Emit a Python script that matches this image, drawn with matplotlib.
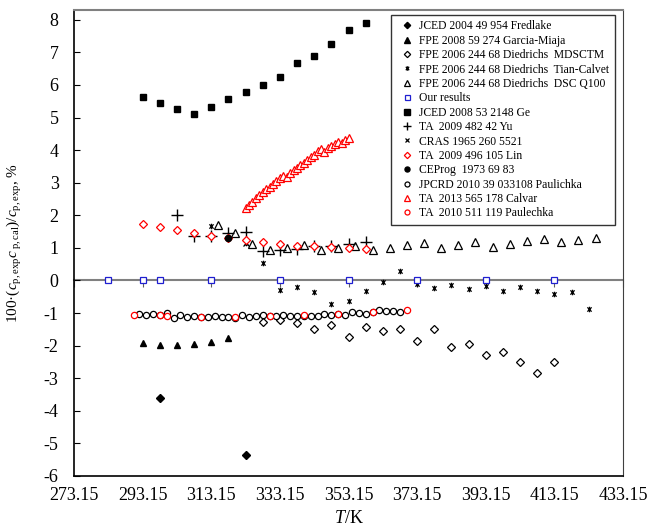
import matplotlib
matplotlib.use('Agg')
import matplotlib.pyplot as plt
import numpy as np
from matplotlib.path import Path

plt.rcParams['font.family'] = ['Liberation Serif', 'DejaVu Serif']
plt.rcParams['mathtext.fontset'] = 'custom'
plt.rcParams['mathtext.rm'] = 'Liberation Serif'
plt.rcParams['mathtext.it'] = 'Liberation Serif:italic'
plt.rcParams['axes.unicode_minus'] = False

# desviaciones 100*(cp,exp - cp,cal)/cp,exp frente a T
T_fredlake = [298.15, 323.15]
d_fredlake = [-3.62, -5.36]

T_garcia = [293.15, 298.15, 303.15, 308.15, 313.15, 318.15]
d_garcia = [-1.92, -1.97, -1.97, -1.94, -1.90, -1.76]

T_mdsctm = [328.15, 333.15, 338.15, 343.15, 348.15, 353.15, 358.15, 363.15, 368.15,
            373.15, 378.15, 383.15, 388.15, 393.15, 398.15, 403.15, 408.15, 413.15]
d_mdsctm = [-1.26, -1.20, -1.32, -1.48, -1.37, -1.72, -1.42, -1.54, -1.48,
            -1.85, -1.48, -2.05, -1.95, -2.30, -2.18, -2.50, -2.85, -2.50]

T_tian = [313.15, 323.15, 328.15, 333.15, 338.15, 343.15, 348.15, 353.15, 358.15, 363.15, 368.15,
          373.15, 378.15, 383.15, 388.15, 393.15, 398.15, 403.15, 408.15, 413.15, 418.15, 423.15]
d_tian = [1.66, 1.15, 0.54, -0.28, -0.21, -0.36, -0.72, -0.64, -0.33, -0.05, 0.28,
          -0.12, -0.22, -0.15, -0.26, -0.18, -0.31, -0.21, -0.33, -0.43, -0.36, -0.87]

T_q100 = [315.15, 320.15, 325.15, 330.15, 335.15, 340.15, 345.15, 350.15, 355.15, 360.15, 365.15, 370.15,
          375.15, 380.15, 385.15, 390.15, 395.15, 400.15, 405.15, 410.15, 415.15, 420.15, 425.15]
d_q100 = [1.71, 1.47, 1.13, 0.95, 1.00, 1.08, 0.92, 1.00, 1.06, 0.92, 1.00, 1.10,
          1.16, 1.00, 1.08, 1.18, 1.02, 1.11, 1.20, 1.27, 1.18, 1.25, 1.31]

T_ours = [283.15, 293.15, 298.15, 313.15, 333.15, 353.15, 373.15, 393.15, 413.15]
d_ours = [0, 0, 0, 0, 0, 0, 0, 0, 0]

T_ge = [293.15, 298.15, 303.15, 308.15, 313.15, 318.15, 323.15, 328.15, 333.15, 338.15,
        343.15, 348.15, 353.15, 358.15]
d_ge = [5.62, 5.44, 5.25, 5.10, 5.33, 5.56, 5.79, 6.00, 6.24, 6.66, 6.88, 7.27, 7.69, 7.90]

T_yu = [303.15, 308.15, 313.15, 318.15, 323.15, 328.15, 333.15, 338.15, 343.15, 348.15, 353.15, 358.15]
d_yu = [2.02, 1.38, 1.38, 1.47, 1.49, 0.89, 0.94, 0.98, 1.05, 1.05, 1.13, 1.17]

T_cras = [323.15]
d_cras = [1.15]

T_lin = [293.15, 298.15, 303.15, 308.15, 313.15, 318.15, 323.15, 328.15, 333.15, 338.15,
         343.15, 348.15, 353.15, 358.15]
d_lin = [1.74, 1.64, 1.54, 1.46, 1.38, 1.31, 1.23, 1.17, 1.13, 1.07, 1.05, 1.02, 0.99, 0.98]

T_ceprog = [318.15]
d_ceprog = [1.31]

T_jpcrd = [292.15, 294.15, 296.15, 298.15, 300.15, 302.15, 304.15, 306.15, 308.15, 310.15,
           312.15, 314.15, 316.15, 318.15, 320.15, 322.15, 324.15, 326.15, 328.15, 330.15,
           332.15, 334.15, 336.15, 338.15, 340.15, 342.15, 344.15, 346.15, 348.15, 350.15,
           352.15, 354.15, 356.15, 358.15, 360.15, 362.15, 364.15, 366.15, 368.15]
d_jpcrd = [-1.03, -1.05, -1.03, -1.06, -1.00, -1.15, -1.05, -1.11, -1.08, -1.11,
           -1.11, -1.08, -1.11, -1.11, -1.15, -1.06, -1.13, -1.08, -1.05, -1.08,
           -1.08, -1.05, -1.10, -1.08, -1.08, -1.09, -1.08, -1.04, -1.07, -1.03,
           -1.07, -0.97, -0.99, -1.03, -0.98, -0.92, -0.95, -0.95, -0.98]

T_calvar = [323.15, 324.15, 325.15, 326.15, 327.15, 328.15, 329.15, 330.15, 331.15, 332.15,
            333.15, 334.15, 335.15, 336.15, 337.15, 338.15, 339.15, 340.15, 341.15, 342.15,
            343.15, 344.15, 345.15, 346.15, 347.15, 348.15, 349.15, 350.15, 351.15, 352.15, 353.15]
d_calvar = [2.22, 2.32, 2.42, 2.52, 2.62, 2.72, 2.80, 2.88, 2.96, 3.05,
            3.14, 3.22, 3.18, 3.30, 3.38, 3.46, 3.54, 3.62, 3.70, 3.78,
            3.86, 3.96, 4.02, 3.95, 4.06, 4.12, 4.18, 4.25, 4.22, 4.30, 4.36]

T_paulechka = [290.65, 298.15, 300.15, 310.15, 320.15, 330.15, 340.15, 350.15, 360.15, 370.15]
d_paulechka = [-1.06, -1.06, -1.08, -1.11, -1.11, -1.10, -1.06, -1.03, -0.98, -0.90]

# marcador tipo asterisco (x con barra vertical)
star = Path([(-1, -1), (1, 1), (-1, 1), (1, -1), (0, -1.3), (0, 1.3)],
            [Path.MOVETO, Path.LINETO, Path.MOVETO, Path.LINETO, Path.MOVETO, Path.LINETO])

fig = plt.figure(figsize=(6.48, 5.26), dpi=100)
ax = fig.add_axes([74 / 648, 50 / 526, 549 / 648, 466 / 526])

ms = 4.5
ax.plot(T_fredlake, d_fredlake, 'D', color='black', ms=4, ls='none', label='JCED 2004 49 954 Fredlake')
ax.plot(T_garcia, d_garcia, '^', color='black', ms=5, ls='none', label='FPE 2008 59 274 Garcia-Miaja')
ax.plot(T_mdsctm, d_mdsctm, 'D', mfc='white', mec='black', ms=4, mew=0.9, ls='none',
        label='FPE 2006 244 68 Diedrichs  MDSCTM')
ax.plot(T_tian, d_tian, marker=star, color='black', ms=4, mew=0.9, ls='none',
        label='FPE 2006 244 68 Diedrichs  Tian-Calvet')
ax.plot(T_q100, d_q100, '^', mfc='white', mec='black', ms=5.5, mew=0.9, ls='none',
        label='FPE 2006 244 68 Diedrichs  DSC Q100')
ax.plot(T_ours, d_ours, 's', mfc='white', mec='#1f1fd0', ms=4.5, mew=0.9, ls='none', label='Our results')
ax.plot(T_ge, d_ge, 's', color='black', ms=5, ls='none', label='JCED 2008 53 2148 Ge')
ax.plot(T_yu, d_yu, '+', color='black', ms=8, mew=1, ls='none', label='TA  2009 482 42 Yu')
ax.plot(T_cras, d_cras, 'x', color='black', ms=4, mew=0.9, ls='none', label='CRAS 1965 260 5521')
ax.plot(T_lin, d_lin, 'D', mfc='white', mec='red', ms=4, mew=0.9, ls='none', label='TA  2009 496 105 Lin')
ax.plot(T_ceprog, d_ceprog, 'o', color='black', ms=4.5, ls='none', label='CEProg  1973 69 83')
ax.plot(T_jpcrd, d_jpcrd, 'o', mfc='white', mec='black', ms=ms, mew=0.9, ls='none',
        label='JPCRD 2010 39 033108 Paulichka')
ax.plot(T_calvar, d_calvar, '^', mfc='white', mec='red', ms=5.5, mew=0.9, ls='none',
        label='TA  2013 565 178 Calvar')
ax.plot(T_paulechka, d_paulechka, 'o', mfc='white', mec='red', ms=ms, mew=0.9, ls='none',
        label='TA  2010 511 119 Paulechka')

ax.set_xlim(273.15, 433.15)
ax.set_ylim(-6, 8.3)
xt = [273.15 + 20 * i for i in range(9)]
ax.set_xticks(xt)
ax.set_xticklabels(['%.2f' % t for t in xt])
ax.set_yticks(range(-6, 9))
ax.tick_params(axis='x', length=0, labelsize=13, pad=8)
ax.tick_params(axis='y', direction='in', length=4, labelsize=13, pad=11)

# eje en cero con sus marcas
ax0 = ax.secondary_xaxis(6 / 14.3)
ax0.set_xticks(xt)
ax0.tick_params(direction='out', length=5, color='#606060', labelbottom=False, labeltop=False)
ax0.spines['bottom'].set_color('#808080')
ax0.spines['bottom'].set_linewidth(1.5)

for s in ['left', 'bottom']:
    ax.spines[s].set_linewidth(1.2)
ax.spines['top'].set_color('#808080')
ax.spines['top'].set_linewidth(1.5)
ax.spines['right'].set_color('#404040')

ax.set_xlabel('$\\it{T}$/K', fontsize=13, labelpad=4)
ax.set_ylabel('100·($c_{\\rm{p,exp}}$$c_{\\rm{\\ p,cal}}$)/$c_{\\rm{p,exp}}$, %', fontsize=11, labelpad=14)

leg = ax.legend(loc='upper right', bbox_to_anchor=(0.985, 0.989), borderaxespad=0, fontsize=8.4,
                frameon=True, fancybox=False, edgecolor='black', labelspacing=0.205, handletextpad=0.1,
                handlelength=1.9, borderpad=0.45, numpoints=1, markerscale=0.8)
leg.get_frame().set_linewidth(1.0)

plt.savefig('out.png', dpi=100)
